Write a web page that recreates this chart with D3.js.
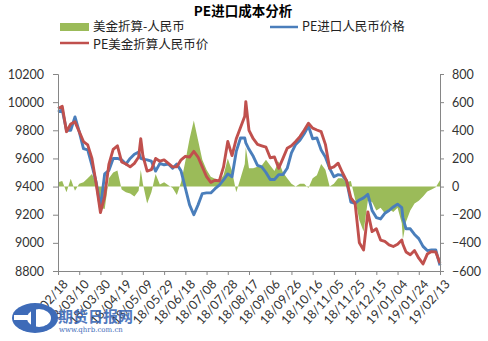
<!DOCTYPE html>
<html>
<head>
<meta charset="utf-8">
<script src="https://cdn.jsdelivr.net/npm/d3@7/dist/d3.min.js"></script>
<style>
  html, body { margin: 0; padding: 0; background: #fff; }
  svg { display: block; }
</style>
</head>
<body>
<script>
// Sample dates (yyyy-mm-dd)
const dates = [
  "2018-02-18","2018-02-22","2018-02-26","2018-03-02","2018-03-06","2018-03-10","2018-03-14","2018-03-18",
  "2018-03-22","2018-03-26","2018-03-30","2018-04-03","2018-04-07","2018-04-11","2018-04-15","2018-04-19",
  "2018-04-23","2018-04-27","2018-05-01","2018-05-05","2018-05-07","2018-05-09","2018-05-13","2018-05-17",
  "2018-05-21","2018-05-25","2018-05-29","2018-06-02","2018-06-06","2018-06-10","2018-06-14","2018-06-18",
  "2018-06-22","2018-06-26","2018-06-30","2018-07-04","2018-07-08","2018-07-12","2018-07-16","2018-07-20",
  "2018-07-24","2018-07-28","2018-08-01","2018-08-05","2018-08-09","2018-08-13","2018-08-14","2018-08-17",
  "2018-08-21","2018-08-25","2018-08-29","2018-09-02","2018-09-06","2018-09-10","2018-09-14","2018-09-18",
  "2018-09-22","2018-09-26","2018-09-30","2018-10-04","2018-10-08","2018-10-12","2018-10-16","2018-10-20",
  "2018-10-24","2018-10-28","2018-11-01","2018-11-05","2018-11-09","2018-11-13","2018-11-17","2018-11-21",
  "2018-11-25","2018-11-29","2018-12-03","2018-12-07","2018-12-11","2018-12-15","2018-12-19","2018-12-23",
  "2018-12-27","2018-12-31","2019-01-04","2019-01-08","2019-01-09","2019-01-12","2019-01-16","2019-01-20",
  "2019-01-24","2019-01-28","2019-02-01","2019-02-05","2019-02-09","2019-02-13"
];

// PE进口人民币价格 (left axis)
const rmbPrice = [
  9930,9945,9800,9800,9895,9790,9670,9660,
  9550,9430,9250,9490,9515,9600,9600,9590,
  9560,9600,9630,9645,9600,9595,9590,9580,
  9510,9565,9555,9560,9530,9560,9510,9390,
  9270,9200,9270,9350,9355,9355,9385,9410,
  9447,9490,9470,9650,9745,9745,9710,9665,
  9615,9550,9540,9500,9450,9450,9485,9485,
  9530,9640,9700,9730,9775,9830,9740,9745,
  9660,9610,9530,9470,9485,9480,9440,9290,
  9280,9305,9320,9345,9230,9180,9170,9210,
  9230,9255,9275,9250,9180,9100,9100,9060,
  9030,8975,8945,8950,8950,8840
];

// PE美金折算人民币价 (left axis)
const usdConvPrice = [
  9955,9970,9790,9845,9860,9790,9720,9696,
  9600,9420,9215,9330,9560,9665,9690,9575,
  9560,9540,9565,9610,9740,9620,9510,9520,
  9600,9580,9590,9565,9540,9540,9590,9615,
  9610,9650,9610,9540,9470,9430,9445,9440,
  9540,9720,9620,9740,9820,9900,10003,9800,
  9740,9700,9690,9680,9605,9610,9530,9600,
  9672,9690,9720,9755,9800,9850,9815,9802,
  9790,9700,9530,9540,9566,9500,9440,9320,
  9280,9000,8950,9220,9080,9100,9020,9010,
  8986,8974,8990,9020,8990,8935,8915,8945,
  8891,8850,8920,8938,8935,8856
];

// 美金折算-人民币 (right axis)
const spread = [
  30,40,-40,55,-30,20,30,60,
  90,20,-150,-160,60,100,115,-20,
  -40,-50,-70,-30,120,20,-120,-40,
  90,15,30,10,-10,-60,30,180,
  340,470,330,190,120,70,55,40,
  80,200,110,-40,60,160,280,130,
  130,140,150,190,150,110,180,100,
  60,20,0,20,20,-10,60,80,
  160,120,0,20,60,60,30,40,
  -90,-240,-320,-100,-110,-170,-150,-190,
  -160,-180,-150,-260,-376,-250,-170,-120,
  -100,-70,-35,-20,-5,45
];

const leftTicks = [8800, 9000, 9200, 9400, 9600, 9800, 10000, 10200];
const rightTicks = [-600, -400, -200, 0, 200, 400, 600, 800];
const xTickDates = [
  "2018-02-18","2018-03-10","2018-03-30","2018-04-19","2018-05-09","2018-05-29","2018-06-18",
  "2018-07-08","2018-07-28","2018-08-17","2018-09-06","2018-09-26","2018-10-16","2018-11-05",
  "2018-11-25","2018-12-15","2019-01-04","2019-01-24","2019-02-13"
];

const seriesNames = ["美金折算-人民币", "PE进口人民币价格", "PE美金折算人民币价"];
const colors = { spread: "#9bbb59", rmb: "#4a7ebb", usd: "#c0504d" };

const W = 488, H = 341;
const plot = { left: 58, right: 440, top: 74, bottom: 271 };

const parse = d3.utcParse("%Y-%m-%d");
const dateObjs = dates.map(parse);

const svg = d3.select("body").append("svg")
  .attr("width", W).attr("height", H)
  .style("font-family", "Lato, 'Noto Sans', sans-serif");

const x = d3.scaleUtc()
  .domain([parse(xTickDates[0]), parse(xTickDates[xTickDates.length - 1])])
  .range([plot.left, plot.right]);
const yL = d3.scaleLinear().domain([8800, 10200]).range([plot.bottom, plot.top]);
const yR = d3.scaleLinear().domain([-600, 800]).range([plot.bottom, plot.top]);

// Title
svg.append("text")
  .attr("x", 243).attr("y", 15.5)
  .attr("text-anchor", "middle")
  .style("font-family", "'Noto Sans CJK SC', sans-serif")
  .style("font-weight", "bold")
  .style("font-size", "13.5px")
  .attr("fill", "#000")
  .text("PE进口成本分析");

// Legend
const legendFont = "'Noto Sans CJK SC', sans-serif";
const lg = svg.append("g").style("font-family", legendFont).style("font-size", "12.5px").attr("fill", "#222");
lg.append("rect").attr("x", 60).attr("y", 23).attr("width", 29).attr("height", 8).attr("fill", colors.spread);
lg.append("text").attr("x", 93).attr("y", 30.5).text(seriesNames[0]);
lg.append("line").attr("x1", 270).attr("x2", 298).attr("y1", 27).attr("y2", 27)
  .attr("stroke", colors.rmb).attr("stroke-width", 2.5);
lg.append("text").attr("x", 302).attr("y", 30.5).text(seriesNames[1]);
lg.append("line").attr("x1", 60).attr("x2", 89).attr("y1", 43).attr("y2", 43)
  .attr("stroke", colors.usd).attr("stroke-width", 2.5);
lg.append("text").attr("x", 93).attr("y", 48.5).text(seriesNames[2]);

// Spread area on the secondary axis
const area = d3.area()
  .x((d, i) => x(dateObjs[i]))
  .y0(yR(0))
  .y1(d => yR(d));
svg.append("path")
  .datum(spread)
  .attr("d", area)
  .attr("fill", colors.spread);

// Price lines
const line = d3.line().x((d, i) => x(dateObjs[i])).y(d => yL(d));
svg.append("path").datum(rmbPrice).attr("d", line)
  .attr("fill", "none").attr("stroke", colors.rmb).attr("stroke-width", 2.9)
  .attr("stroke-linejoin", "round");
svg.append("path").datum(usdConvPrice).attr("d", line)
  .attr("fill", "none").attr("stroke", colors.usd).attr("stroke-width", 2.9)
  .attr("stroke-linejoin", "round");

// Axes
const axisColor = "#868686";
const labelColor = "#333";

const gL = svg.append("g").attr("transform", `translate(${plot.left},0)`)
  .call(d3.axisLeft(yL).tickValues(leftTicks).tickSize(5).tickPadding(9).tickFormat(d3.format("d")));
const gR = svg.append("g").attr("transform", `translate(${plot.right},0)`)
  .call(d3.axisRight(yR).tickValues(rightTicks).tickSize(4).tickPadding(8).tickFormat(d3.format("d")));
const gX = svg.append("g").attr("transform", `translate(0,${plot.bottom})`)
  .call(d3.axisBottom(x).tickValues(xTickDates.map(parse)).tickSize(4).tickFormat(d3.utcFormat("%y/%m/%d")));

[gL, gR, gX].forEach(g => {
  g.select(".domain").attr("stroke", axisColor);
  g.selectAll(".tick line").attr("stroke", axisColor);
  g.selectAll(".tick text").attr("fill", labelColor).style("font-size", "12.5px").style("font-family", "Lato, sans-serif");
});

gX.selectAll(".tick text")
  .attr("text-anchor", "end")
  .attr("dx", 0).attr("dy", 0)
  .attr("transform", "translate(5,9) rotate(-48)");

// Watermark logo
const logo = svg.append("g");
logo.append("ellipse").attr("cx", 35).attr("cy", 318).attr("rx", 23).attr("ry", 15).attr("fill", "#3e6bb8");
logo.append("ellipse").attr("cx", 39).attr("cy", 318).attr("rx", 12).attr("ry", 9).attr("fill", "#fff");
logo.append("rect").attr("x", 14).attr("y", 315).attr("width", 20).attr("height", 5).attr("fill", "#fff");
logo.append("rect").attr("x", 31).attr("y", 309).attr("width", 5).attr("height", 18).attr("fill", "#3e6bb8");
logo.append("text").attr("x", 58).attr("y", 322)
  .style("font-family", "'Noto Sans CJK SC', serif").style("font-weight", "bold").style("font-size", "15px")
  .attr("fill", "#3e6bb8").attr("opacity", 0.9).text("期货日报网");
logo.append("text").attr("x", 59).attr("y", 332)
  .style("font-family", "'DejaVu Serif', serif").style("font-size", "7px")
  .attr("fill", "#3e6bb8").text("www.qhrb.com.cn");
</script>
</body>
</html>
